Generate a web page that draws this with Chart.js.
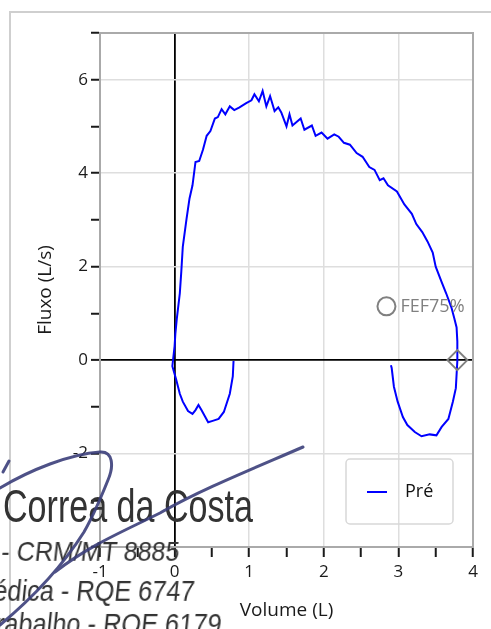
<!DOCTYPE html>
<html>
<head>
<meta charset="utf-8">
<script src="https://cdn.jsdelivr.net/npm/chart.js@4.4.1/dist/chart.umd.min.js"></script>
<style>
  html, body { margin: 0; padding: 0; background: #fff; }
  #wrap { position: relative; width: 491px; height: 629px; overflow: hidden; }
  #chart { position: absolute; left: 0; top: 0; }
  #sig { position: absolute; left: 0; top: 0; width: 491px; height: 629px; pointer-events: none; }
  #sig .ln {
    position: absolute; white-space: nowrap; line-height: 1;
    font-family: 'Liberation Sans Narrow', 'Liberation Sans', Arial, sans-serif;
    color: #333; transform-origin: 0 100%; filter: blur(0.5px);
  }
  #sig svg { position: absolute; left: 0; top: 0; filter: blur(0.4px); }
</style>
</head>
<body>
<div id="wrap">
  <canvas id="chart" width="491" height="629"></canvas>
  <div id="sig">
    <div class="ln" style="left:3px;top:482px;font-size:47px" data-w="250" data-skew="0">Correa da Costa</div>
    <div class="ln" style="left:0px;top:538px;font-size:28px" data-w="178" data-skew="-7">- CRM/MT 8885</div>
    <div class="ln" style="left:-29px;top:576px;font-size:30px" data-w="222" data-skew="-7">Médica - RQE 6747</div>
    <div class="ln" style="left:-20px;top:609px;font-size:30px" data-w="240" data-skew="-7">Trabalho - RQE 6179</div>
    <svg width="491" height="629">
      <g fill="none" stroke="#3b3f7a" stroke-width="3" stroke-linecap="round" opacity="0.9">
        <path d="M0 488 C30 470 70 454 100 452 C113 451 114 466 108 480 C100 500 92 518 84 532 C60 570 30 600 0 625"/>
        <path d="M303 447 C250 470 200 490 160 513 C120 533 90 545 55 572"/>
        <path d="M3 472 L9 461"/>
      </g>
    </svg>
  </div>
</div>
<script>
// Flow-volume curve (Pré), in drawing order
const volumeL = [
  0.79, 0.78, 0.74, 0.66, 0.59, 0.51, 0.45, 0.36, 0.32, 0.28, 0.24, 0.18, 0.11, 0.07, 0.02, -0.03,
  0.0, 0.01, 0.03, 0.07, 0.09, 0.11, 0.16, 0.2, 0.24, 0.28, 0.33, 0.38, 0.43, 0.48, 0.54, 0.58,
  0.63, 0.68, 0.74, 0.8, 0.87, 0.96, 1.03, 1.07, 1.13, 1.18, 1.23, 1.28, 1.34, 1.39, 1.43, 1.5,
  1.54, 1.58, 1.69, 1.74, 1.84, 1.89, 1.97, 2.05, 2.14, 2.2, 2.27, 2.35, 2.44, 2.52, 2.61, 2.68,
  2.75, 2.8, 2.86, 2.98, 3.08, 3.18, 3.24, 3.32, 3.39, 3.46, 3.5, 3.58, 3.64, 3.71, 3.75, 3.78,
  3.79, 3.79, 3.77, 3.73, 3.67, 3.58, 3.51, 3.42, 3.31, 3.22, 3.12, 3.06, 2.99, 2.94, 2.91, 2.9
];
const flowLs = [
  -0.02, -0.35, -0.72, -1.11, -1.26, -1.3, -1.33, -1.07, -0.96, -1.07, -1.15, -1.09, -0.89, -0.72, -0.41, -0.13,
  0.3, 0.56, 0.89, 1.43, 1.9, 2.43, 3.02, 3.46, 3.74, 4.24, 4.26, 4.5, 4.8, 4.9, 5.17, 5.2,
  5.37, 5.26, 5.43, 5.35, 5.41, 5.5, 5.56, 5.69, 5.54, 5.76, 5.43, 5.65, 5.33, 5.41, 5.3, 5.0,
  5.26, 5.02, 5.17, 4.93, 5.02, 4.8, 4.87, 4.74, 4.83, 4.78, 4.65, 4.61, 4.43, 4.35, 4.13, 4.07,
  3.85, 3.89, 3.74, 3.61, 3.33, 3.13, 2.91, 2.74, 2.54, 2.3, 2.0, 1.67, 1.43, 1.13, 0.89, 0.7,
  0.4, -0.02, -0.6, -0.89, -1.26, -1.43, -1.61, -1.59, -1.63, -1.54, -1.39, -1.22, -0.89, -0.57, -0.17, -0.11
];

// Markers
const fef75 = { x: 2.84, y: 1.15 };
const endPoint = { x: 3.79, y: 0 };

const seriesLabel = 'Pré';
const xTitle = 'Volume (L)';
const yTitle = 'Fluxo (L/s)';

const FONT = "'Open Sans', 'Noto Sans', sans-serif";

const curve = volumeL.map((v, i) => ({ x: v, y: flowLs[i] }));

const framePlugin = {
  id: 'frame',
  beforeDraw(chart) {
    const ctx = chart.ctx;
    ctx.save();
    ctx.strokeStyle = '#cfcfcf';
    ctx.lineWidth = 2;
    ctx.beginPath();
    ctx.moveTo(10, chart.height + 5);
    ctx.lineTo(10, 12);
    ctx.lineTo(chart.width + 5, 12);
    ctx.stroke();
    ctx.restore();
  },
  afterDatasetsDraw(chart) {
    const { ctx, chartArea: a } = chart;
    ctx.save();
    ctx.strokeStyle = '#aaaaaa';
    ctx.lineWidth = 2;
    ctx.strokeRect(a.left, a.top, a.right - a.left, a.bottom - a.top);
    ctx.restore();
  },
  afterDraw(chart) {
    const ctx = chart.ctx;
    const xs = chart.scales.x, ys = chart.scales.y;
    ctx.save();
    // FEF75% label
    ctx.fillStyle = '#808080';
    ctx.font = '18px ' + FONT;
    ctx.textBaseline = 'middle';
    ctx.fillText('FEF75%', xs.getPixelForValue(fef75.x) + 14, ys.getPixelForValue(fef75.y) + 1);
    // legend
    ctx.strokeStyle = '#d8d8d8';
    ctx.lineWidth = 1.5;
    ctx.beginPath();
    ctx.roundRect(346, 459, 107, 65, 4);
    ctx.stroke();
    ctx.strokeStyle = '#0000ff';
    ctx.lineWidth = 2;
    ctx.beginPath();
    ctx.moveTo(367, 492);
    ctx.lineTo(387, 492);
    ctx.stroke();
    ctx.fillStyle = '#111';
    ctx.font = '18px ' + FONT;
    ctx.fillText(seriesLabel, 405, 492);
    ctx.restore();
  }
};

new Chart(document.getElementById('chart'), {
  type: 'scatter',
  data: {
    datasets: [
      {
        label: 'FEF75%',
        data: [fef75],
        pointStyle: 'circle',
        pointRadius: 9,
        borderColor: '#808080',
        backgroundColor: 'rgba(0,0,0,0)',
        borderWidth: 2,
        order: 1
      },
      {
        label: 'end',
        data: [endPoint],
        pointStyle: 'rectRot',
        pointRadius: 10,
        borderColor: '#808080',
        backgroundColor: 'rgba(0,0,0,0)',
        borderWidth: 2,
        order: 1
      },
      {
        label: seriesLabel,
        data: curve,
        showLine: true,
        borderColor: '#0000ff',
        borderWidth: 2,
        pointRadius: 0,
        tension: 0,
        order: 2
      }
    ]
  },
  options: {
    responsive: false,
    animation: false,
    devicePixelRatio: 1,
    layout: { padding: { left: 0, top: 33, right: 18, bottom: 0 } },
    plugins: {
      legend: { display: false },
      tooltip: { enabled: false }
    },
    scales: {
      x: {
        type: 'linear',
        min: -1,
        max: 4,
        afterFit: s => { s.height = 82; },
        ticks: {
          stepSize: 0.5,
          autoSkip: false,
          maxRotation: 0,
          padding: 5,
          color: '#1a1a1a',
          font: { size: 17, family: FONT },
          callback: v => Number.isInteger(v) ? v : ''
        },
        grid: {
          color: c => c.tick.value === 0 ? '#000' : (Number.isInteger(c.tick.value) ? '#dedede' : 'rgba(0,0,0,0)'),
          lineWidth: c => c.tick.value === 0 ? 1.8 : 1.5,
          tickColor: '#1a1a1a',
          tickLength: 10,
          tickWidth: 2
        },
        border: { color: '#aaaaaa', width: 2 },
        title: {
          display: true,
          text: xTitle,
          color: '#1a1a1a',
          font: { size: 19, family: FONT },
          padding: { top: 0, bottom: 7 }
        }
      },
      y: {
        min: -4,
        max: 7,
        afterFit: s => { s.width = 100; },
        ticks: {
          stepSize: 1,
          autoSkip: false,
          padding: 3,
          color: '#1a1a1a',
          font: { size: 17, family: FONT },
          callback: v => (v % 2 === 0 && v > -4) ? v : ''
        },
        grid: {
          color: c => c.tick.value === 0 ? '#000' : (c.tick.value % 2 === 0 ? '#dedede' : 'rgba(0,0,0,0)'),
          lineWidth: c => c.tick.value === 0 ? 1.8 : 1.5,
          tickColor: '#1a1a1a',
          tickLength: 9,
          tickWidth: 2
        },
        border: { color: '#aaaaaa', width: 2 },
        title: {
          display: true,
          text: yTitle,
          color: '#1a1a1a',
          font: { size: 19, family: FONT },
          padding: { top: 34, bottom: 0 }
        }
      }
    }
  },
  plugins: [framePlugin]
});

// squeeze the stamp lines to their widths in the picture
document.querySelectorAll('#sig .ln').forEach(el => {
  const w = el.getBoundingClientRect().width;
  el.style.transform = 'scaleX(' + (el.dataset.w / w) + ') skewX(' + el.dataset.skew + 'deg)';
});
</script>
</body>
</html>
